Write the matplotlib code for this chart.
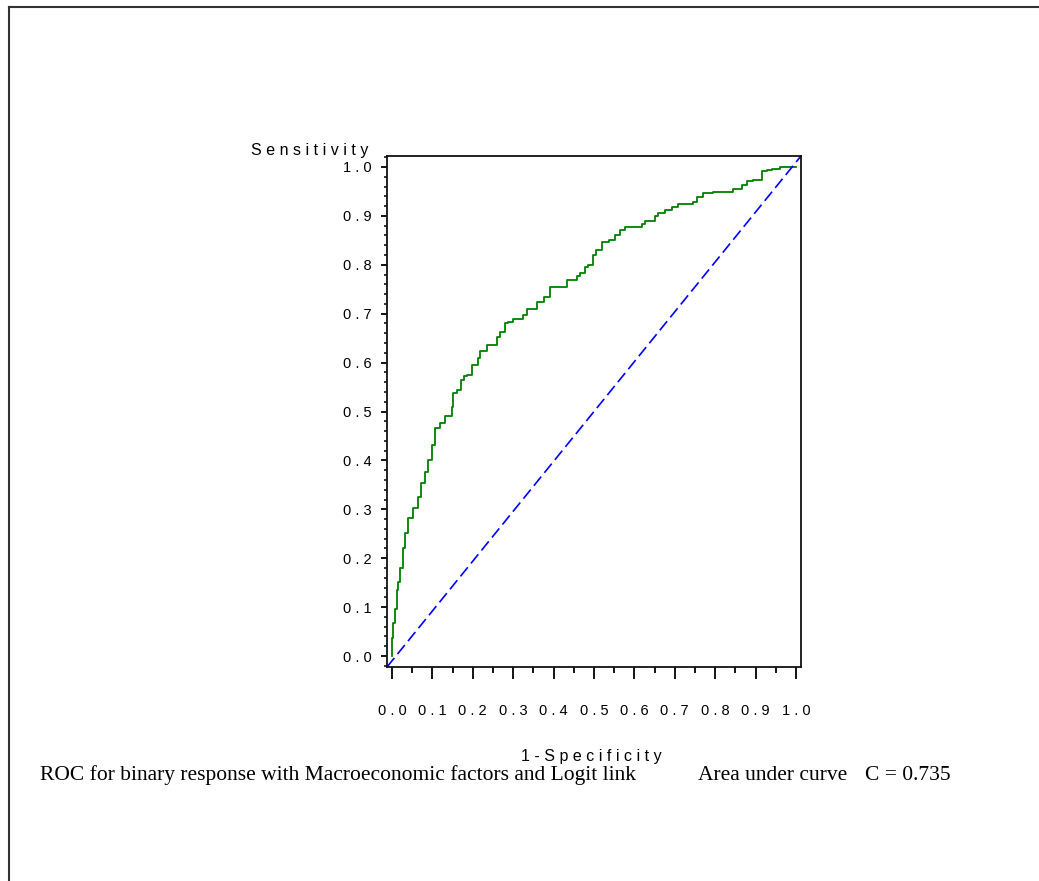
import matplotlib
matplotlib.use("Agg")
import matplotlib.pyplot as plt
from matplotlib.lines import Line2D
from matplotlib.ticker import MultipleLocator, FixedLocator
import numpy as np

# ROC curve (1 - specificity, sensitivity)
fpr = [0.000, 0.003, 0.007, 0.012, 0.016, 0.021, 0.026, 0.032, 0.040, 0.053,
       0.065, 0.073, 0.082, 0.090, 0.098, 0.106, 0.119, 0.131, 0.148, 0.152,
       0.160, 0.172, 0.177, 0.185, 0.197, 0.214, 0.218, 0.234, 0.259, 0.267,
       0.280, 0.288, 0.300, 0.325, 0.333, 0.339, 0.358, 0.375, 0.391, 0.412,
       0.433, 0.441, 0.457, 0.465, 0.478, 0.486, 0.498, 0.506, 0.519, 0.536,
       0.552, 0.564, 0.577, 0.589, 0.618, 0.626, 0.651, 0.659, 0.676, 0.692,
       0.709, 0.725, 0.746, 0.754, 0.771, 0.795, 0.820, 0.845, 0.866, 0.878,
       0.894, 0.915, 0.927, 0.940, 0.960, 0.964, 1.000]
tpr = [0.000, 0.037, 0.068, 0.096, 0.135, 0.152, 0.180, 0.220, 0.252, 0.282,
       0.303, 0.326, 0.354, 0.377, 0.400, 0.431, 0.466, 0.476, 0.490, 0.510,
       0.537, 0.544, 0.564, 0.573, 0.575, 0.595, 0.609, 0.624, 0.636, 0.653,
       0.663, 0.680, 0.684, 0.690, 0.697, 0.709, 0.709, 0.724, 0.735, 0.755,
       0.755, 0.769, 0.769, 0.777, 0.783, 0.796, 0.800, 0.820, 0.831, 0.847,
       0.851, 0.861, 0.871, 0.878, 0.878, 0.883, 0.890, 0.900, 0.905, 0.912,
       0.919, 0.924, 0.924, 0.929, 0.939, 0.946, 0.948, 0.948, 0.954, 0.963,
       0.972, 0.973, 0.991, 0.994, 0.995, 1.000, 1.000]

tick_vals = [0.0, 0.1, 0.2, 0.3, 0.4, 0.5, 0.6, 0.7, 0.8, 0.9, 1.0]
tick_labels = ["0 . 0", "0 . 1", "0 . 2", "0 . 3", "0 . 4", "0 . 5",
               "0 . 6", "0 . 7", "0 . 8", "0 . 9", "1 . 0"]
y_title = "S e n s i t i v i t y"
x_title = "1 - S p e c i f i c i t y"
caption = "ROC for binary response with Macroeconomic factors and Logit link"
auc_label = "Area under curve"
auc_value = "C = 0.735"

W, H = 1039, 881
fig = plt.figure(figsize=(W / 100, H / 100), dpi=100)
fig.patch.set_facecolor("white")

# frame around the page (top and left edges show)
fig.add_artist(Line2D([8.5 / W, 1.0], [1 - 6.5 / H, 1 - 6.5 / H], transform=fig.transFigure,
                      color="#333333", lw=1.5))
fig.add_artist(Line2D([8.5 / W, 8.5 / W], [1 - 6.5 / H, 0.0], transform=fig.transFigure,
                      color="#333333", lw=1.5))

ax = fig.add_axes([387 / W, 1 - 667 / H, 414 / W, 511 / H])
ax.plot(fpr, tpr, color="#007f00", lw=1.3, drawstyle="steps-pre")
ax.plot([0, 1], [0, 1], transform=ax.transAxes, color="#0000ff", lw=1.2,
        dashes=(7, 3))

ax.set_xlim(-5 / 404, 1 + 5 / 404)
ax.set_ylim(-11 / 489, 1 + 11 / 489)

for s in ax.spines.values():
    s.set_linewidth(1.3)
    s.set_color("#111111")

font = "Liberation Sans"
ax.xaxis.set_major_locator(FixedLocator(tick_vals))
ax.yaxis.set_major_locator(FixedLocator(tick_vals))
ax.set_xticklabels(tick_labels, fontfamily=font, fontsize=10.5)
ax.set_yticklabels(tick_labels, fontfamily=font, fontsize=10.5)
ax.xaxis.set_minor_locator(MultipleLocator(0.05))
ax.yaxis.set_minor_locator(MultipleLocator(0.02))
ax.tick_params(axis="x", which="major", direction="out", length=8.5, width=1.3, pad=18)
ax.tick_params(axis="x", which="minor", direction="out", length=4.3, width=1.3)
ax.tick_params(axis="y", which="major", direction="out", length=4, width=1.3, pad=7)
ax.tick_params(axis="y", which="minor", direction="out", length=2.3, width=1.1)

fig.text(368 / W, 1 - 150 / H, y_title, ha="right", va="center",
         fontfamily=font, fontsize=11.5)
fig.text(591 / W, 1 - 756 / H, x_title, ha="center", va="center",
         fontfamily=font, fontsize=11.5)

serif = "Liberation Serif"
fig.text(40 / W, 1 - 780 / H, caption, ha="left", va="baseline",
         fontfamily=serif, fontsize=15.5)
fig.text(773 / W, 1 - 780 / H, auc_label, ha="center", va="baseline",
         fontfamily=serif, fontsize=15.5)
fig.text(908 / W, 1 - 780 / H, auc_value, ha="center", va="baseline",
         fontfamily=serif, fontsize=15.5)

fig.savefig("out.png", dpi=100, facecolor="white")
